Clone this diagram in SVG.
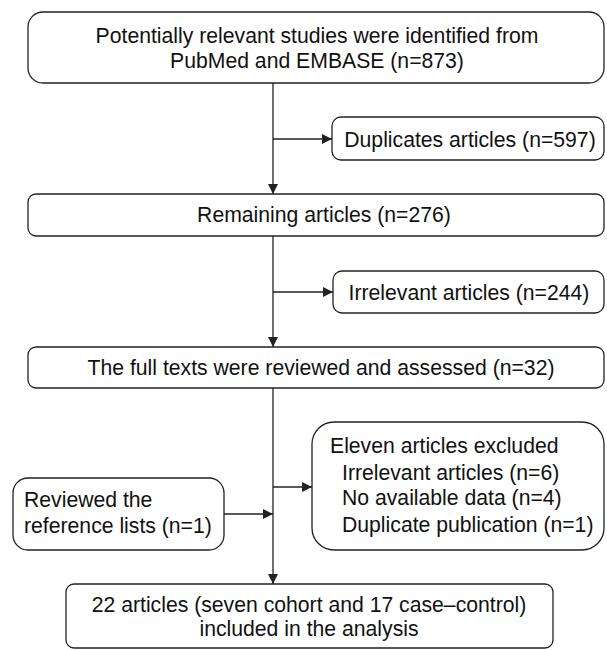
<svg xmlns="http://www.w3.org/2000/svg" width="607" height="650" viewBox="0 0 607 650">
<defs>
<style>
.box{fill:#fff;stroke:#222;stroke-width:1.3}
.t{font-family:"Liberation Sans",Arial,sans-serif;font-size:21.2px;fill:#111}
.c{text-anchor:middle}
.ln{stroke:#222;stroke-width:1.3;fill:none}
</style>
<marker id="ah" viewBox="0 0 10 10" refX="10" refY="5" markerWidth="10" markerHeight="10" markerUnits="userSpaceOnUse" orient="auto">
<path d="M0,0 L10,5 L0,10 Z" fill="#222"/>
</marker>
</defs>
<rect width="607" height="650" fill="#fff"/>
<g id="connectors">
<line class="ln" x1="273" y1="83" x2="273" y2="194" marker-end="url(#ah)"/>
<line class="ln" x1="273" y1="139" x2="332" y2="139" marker-end="url(#ah)"/>
<line class="ln" x1="273" y1="236" x2="273" y2="347" marker-end="url(#ah)"/>
<line class="ln" x1="273" y1="292" x2="333" y2="292" marker-end="url(#ah)"/>
<line class="ln" x1="273" y1="388" x2="273" y2="584" marker-end="url(#ah)"/>
<line class="ln" x1="273" y1="487" x2="312" y2="487" marker-end="url(#ah)"/>
<line class="ln" x1="224" y1="514" x2="273" y2="514" marker-end="url(#ah)"/>
</g>
<g id="n1">
<rect class="box" x="28" y="12" width="576" height="71" rx="15"/>
<text class="t c" x="317" y="43">Potentially relevant studies were identified from</text>
<text class="t c" x="317" y="68">PubMed and EMBASE (n=873)</text>
</g>
<g id="n2">
<rect class="box" x="332" y="117" width="272" height="43" rx="9"/>
<text class="t c" x="470" y="147">Duplicates articles (n=597)</text>
</g>
<g id="n3">
<rect class="box" x="28" y="194" width="576" height="42" rx="8"/>
<text class="t c" x="324" y="222">Remaining articles (n=276)</text>
</g>
<g id="n4">
<rect class="box" x="333" y="271" width="271" height="42" rx="9"/>
<text class="t c" x="469" y="300">Irrelevant articles (n=244)</text>
</g>
<g id="n5">
<rect class="box" x="28" y="347" width="576" height="41" rx="8"/>
<text class="t c" x="321" y="375">The full texts were reviewed and assessed (n=32)</text>
</g>
<g id="n6">
<rect class="box" x="312" y="422" width="292" height="128" rx="22"/>
<text class="t" x="330" y="453">Eleven articles excluded</text>
<text class="t" x="342" y="480">Irrelevant articles (n=6)</text>
<text class="t" x="342" y="505">No available data (n=4)</text>
<text class="t" x="342" y="532">Duplicate publication (n=1)</text>
</g>
<g id="n7">
<rect class="box" x="13" y="478" width="211" height="72" rx="15"/>
<text class="t" x="24" y="507">Reviewed the</text>
<text class="t" x="24" y="533">reference lists (n=1)</text>
</g>
<g id="n8">
<rect class="box" x="66" y="584" width="487" height="64" rx="8"/>
<text class="t c" x="309" y="612">22 articles (seven cohort and 17 case–control)</text>
<text class="t c" x="309" y="636">included in the analysis</text>
</g>
</svg>
